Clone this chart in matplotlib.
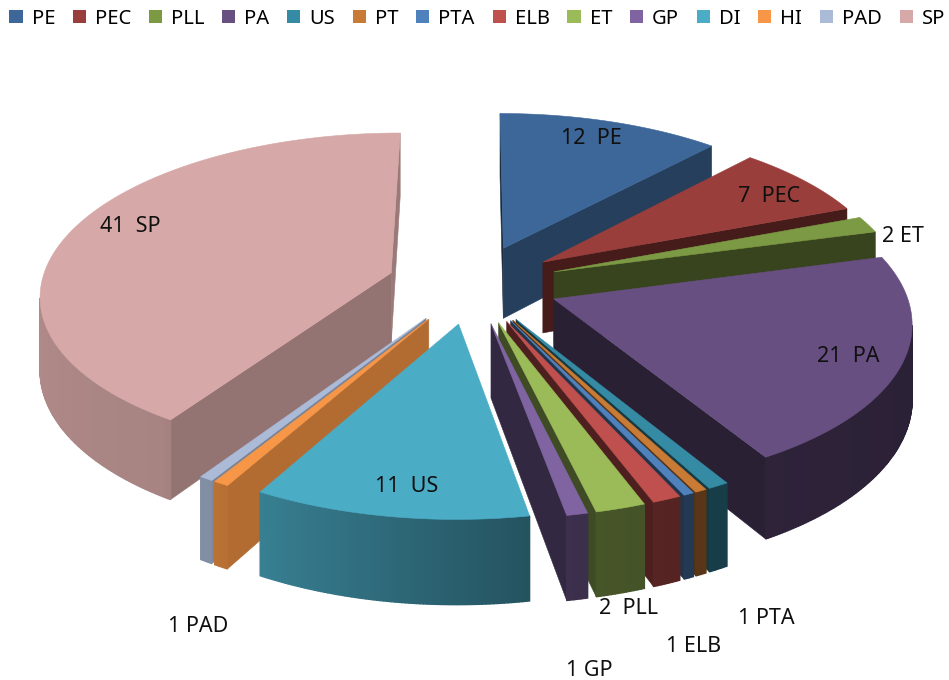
import numpy as np
import matplotlib
matplotlib.use('Agg')
import matplotlib.pyplot as plt
from matplotlib.patches import Patch
from matplotlib.colors import to_rgb

plt.rcParams['font.family'] = ['Noto Sans', 'DejaVu Sans']

# Series in legend order, the pie runs clockwise from 12 o'clock
categories = ['PE', 'PEC', 'PLL', 'PA', 'US', 'PT', 'PTA', 'ELB', 'ET', 'GP', 'DI', 'HI', 'PAD', 'SP']
# slice sizes (the labels round them)
values = [11.92, 7.39, 1.67, 20.97, 0.84, 0.47, 0.42, 1.15, 2.0, 0.84, 10.97, 0.62, 0.55, 41.25]
colors = ['#3C6798', '#9A3E3B', '#7C9A44', '#684F82', '#358BA3', '#C97A35', '#4F81BD',
          '#C0504D', '#9BBB59', '#8064A2', '#4BACC6', '#F79646', '#AABAD7', '#D6A8A7']

# Data labels as they are written on the chart
label_texts = ['12  PE', '7  PEC', '2 ET', '21  PA', '2  PLL', '1 PTA', '1 ELB', '1 GP', '11  US', '1 PAD', '41  SP']
label_x = [591, 769, 903, 848, 629, 766, 694, 589, 407, 198, 130]
label_y = [138, 197, 236, 356, 608, 618, 646, 670, 487, 627, 226]

# Projection of the pie
cx, cy = 473.0, 284.0
rx, ry = 350.0, 160.0
persp = 0.125
depth = 72.0
explode = 0.246


def project(x, y, z=0.0):
    w = 1 + y * persp
    return cx + rx * x / w, cy + (-ry * y + depth * z) / w


def top_shade(angle):
    return np.interp(angle, [90, 165, 215, 290], [0.40, 0.45, 0.78, 0.85])


def cut_shade(normal_angle):
    return np.interp(normal_angle % 360, [120, 127, 156, 240], [0.72, 0.65, 0.45, 0.40])


def darker(color, k):
    return tuple(c * k for c in to_rgb(color))


def direction(angle):
    return np.sin(np.radians(angle)), np.cos(np.radians(angle))


def visible(px, py, nx, ny):
    # vertical face, looked at from the eye in front of the pie
    return nx * px + ny * (py + 1 / persp) < 0


def fill_face(ax, xs, ys, color, zorder, lw=0.4):
    ax.fill(xs, ys, facecolor=color, edgecolor=color, linewidth=lw, zorder=zorder)


def draw_slice(ax, start, end, color, zorder):
    mid = (start + end) / 2
    mx, my = direction(mid)
    ax0, ay0 = explode * mx, explode * my
    angles = np.linspace(start, end, max(int(end - start) * 2, 3))
    rim_x = np.array([ax0 + direction(a)[0] for a in angles])
    rim_y = np.array([ay0 + direction(a)[1] for a in angles])

    # the two cut faces
    for a, sign, rim_i in [(start, -1, 0), (end, 1, -1)]:
        nx, ny = direction(a + sign * 90)
        if visible(ax0, ay0, nx, ny):
            xs, ys = [], []
            for px, py, z in [(ax0, ay0, 0), (rim_x[rim_i], rim_y[rim_i], 0),
                              (rim_x[rim_i], rim_y[rim_i], 1), (ax0, ay0, 1)]:
                sx, sy = project(px, py, z)
                xs.append(sx)
                ys.append(sy)
            fill_face(ax, xs, ys, darker(color, cut_shade(a + sign * 90)), zorder)

    # outer wall, piece by piece for the shading
    for i in range(len(angles) - 1):
        a = (angles[i] + angles[i + 1]) / 2
        nx, ny = direction(a)
        if visible(rim_x[i], rim_y[i], nx, ny):
            x0, y0 = project(rim_x[i], rim_y[i])
            x1, y1 = project(rim_x[i + 1], rim_y[i + 1])
            x2, y2 = project(rim_x[i + 1], rim_y[i + 1], 1)
            x3, y3 = project(rim_x[i], rim_y[i], 1)
            fill_face(ax, [x0, x1, x2, x3], [y0, y1, y2, y3], darker(color, top_shade(a)), zorder, lw=1.0)

    # top
    tx, ty = project(np.r_[ax0, rim_x], np.r_[ay0, rim_y])
    fill_face(ax, tx, ty, color, zorder + 0.5)


def main():
    fig = plt.figure(figsize=(9.49, 6.8), dpi=100)
    ax = fig.add_axes([0, 0, 1, 1])
    ax.set_xlim(0, 949)
    ax.set_ylim(680, 0)
    ax.axis('off')

    edges = np.r_[0, np.cumsum(values)] / sum(values) * 360.0
    mids = (edges[:-1] + edges[1:]) / 2
    # back slices first
    order = sorted(range(len(values)), key=lambda k: -np.cos(np.radians(mids[k])))
    for rank, k in enumerate(order):
        draw_slice(ax, edges[k], edges[k + 1], colors[k], 2 + rank)

    for text, x, y in zip(label_texts, label_x, label_y):
        ax.text(x, y, text, ha='center', va='center', fontsize=15.5, color='#101010', zorder=50)

    handles = [Patch(facecolor=c, edgecolor='none') for c in colors]
    ax.legend(handles, categories, ncol=len(categories), loc='upper center',
              bbox_to_anchor=(0.503, 0.987), frameon=False, fontsize=14.5,
              handlelength=0.65, handleheight=0.65, handletextpad=0.45, columnspacing=0.88,
              borderpad=0, borderaxespad=0)

    fig.savefig('out.png', dpi=100)


if __name__ == '__main__':
    main()
